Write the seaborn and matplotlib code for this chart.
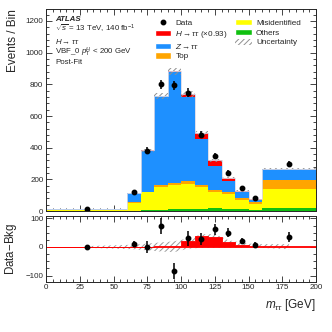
import numpy as np
import pandas as pd
import matplotlib
matplotlib.use("Agg")
import matplotlib.pyplot as plt
import seaborn as sns
from matplotlib.patches import Patch
from matplotlib.lines import Line2D
from matplotlib.ticker import MultipleLocator

# ---------------------------------------------------------------------------
# Data
# ---------------------------------------------------------------------------

edges = [0, 60, 70, 80, 90, 100, 110, 120, 130, 140, 150, 160, 200]
others = [1, 4, 8, 10, 12, 15, 16, 18, 16, 12, 8, 20]
misid = [8, 48, 111, 141, 156, 157, 135, 101, 93, 59, 38, 120]
top = [0.5, 3, 4, 17, 12, 15, 17, 15, 14, 12, 10, 57]
ztt = [3.8, 57, 259, 557, 698, 531, 286, 150, 68, 39, 17, 68]
htt = [0.2, 0.5, 1, 2, 4, 22, 38, 36, 17, 8, 4, 2]
data = [12, 122, 382, 799, 795, 748, 482, 346, 241, 143, 81, 299]
data_x = [30, 65, 75, 85, 95, 105, 115, 125, 135, 145, 155, 180]

# Data-Bkg uncertainty band (upper / lower edge per bin)
band_hi = [3, 8, 12, 16, 20, 30, 44, 46, 24, 15, 10, 10]
band_lo = [-3, -8, -12, -16, -18, -6, -3, -3, -2, -2, -2, -8]

names = ["H", "Z", "Top", "Misid", "Others"]
colors = {"H": "#ff0000", "Z": "#1e90ff", "Top": "#ffa500",
          "Misid": "#ffff00", "Others": "#10c010"}

# ---------------------------------------------------------------------------
# Style
# ---------------------------------------------------------------------------

sns.set_theme(style="ticks")
plt.rcParams["font.family"] = ["Liberation Sans", "DejaVu Sans"]
plt.rcParams["mathtext.fontset"] = "custom"
plt.rcParams["mathtext.it"] = "Liberation Sans:italic"
plt.rcParams["mathtext.rm"] = "Liberation Sans"
plt.rcParams["hatch.linewidth"] = 0.7

edges_a = np.array(edges)
centers = 0.5 * (edges_a[:-1] + edges_a[1:])
bkg = np.array(others) + np.array(misid) + np.array(top) + np.array(ztt)
total = bkg + np.array(htt)
data_a = np.array(data)
err = np.sqrt(data_a)
diff = data_a - bkg

rows = []
for name, vals in zip(names, [htt, ztt, top, misid, others]):
    for c, v in zip(centers, vals):
        rows.append({"x": c, "w": v, "proc": name})
df = pd.DataFrame(rows)

fig = plt.figure(figsize=(3.32, 3.32), dpi=100)
ax = fig.add_axes([0.139, 0.364, 0.813, 0.609])
rax = fig.add_axes([0.139, 0.152, 0.813, 0.197])

# ---------------------------------------------------------------------------
# Main panel
# ---------------------------------------------------------------------------

sns.histplot(data=df, x="x", weights="w", hue="proc", hue_order=names,
             palette=colors, bins=edges, multiple="stack", element="bars",
             linewidth=0, alpha=1, legend=False, ax=ax)

ax.stairs(total * 1.025, edges, baseline=total * 0.975, fill=True,
          facecolor="none", edgecolor="#909090", hatch="//////", linewidth=0)
ax.stairs(total, edges, color="#d8d8e8", linewidth=0.6)

ax.errorbar(data_x, data, yerr=err, fmt="o", color="black", ms=3.2,
            elinewidth=1.1, capsize=0)

ax.set_xlim(0, 200)
ax.set_ylim(0, 1275)
ax.set_xlabel("")
ax.set_ylabel("Events / Bin", fontsize=8.5, loc="top")
ax.tick_params(labelbottom=False)

t = dict(transform=ax.transAxes, fontsize=5.7, va="center", ha="left")
ax.text(0.033, 0.948, "ATLAS", fontweight="bold", style="italic", **t)
ax.text(0.033, 0.900, r"$\sqrt{s}$ = 13 TeV, 140 fb$^{-1}$", **t)
ax.text(0.033, 0.840, r"$H\rightarrow\tau\tau$", **t)
ax.text(0.033, 0.787, r"VBF_0 $p_{\mathrm{T}}^{H}$ < 200 GeV", **t)
ax.text(0.033, 0.737, "Post-Fit", **t)

handles = [
    Line2D([], [], marker="o", color="black", ms=3.2, ls="none"),
    Patch(facecolor=colors["H"]),
    Patch(facecolor=colors["Z"]),
    Patch(facecolor=colors["Top"]),
    Patch(facecolor=colors["Misid"]),
    Patch(facecolor=colors["Others"]),
    Patch(facecolor="white", edgecolor="#909090", hatch="//////", linewidth=0),
]
labels = ["Data", r"$H\rightarrow\tau\tau$ ($\times$0.93)", r"$Z\rightarrow\tau\tau$",
          "Top", "Misidentified", "Others", "Uncertainty"]
ax.legend(handles, labels, ncol=2, loc="upper left", bbox_to_anchor=(0.385, 0.975),
          frameon=False, fontsize=5.9, handlelength=2.0, handleheight=0.8,
          labelspacing=0.22, columnspacing=0.9, handletextpad=0.5,
          borderaxespad=0.2)

# ---------------------------------------------------------------------------
# Data - Bkg panel
# ---------------------------------------------------------------------------

rax.fill_between(centers, band_lo, band_hi, facecolor="none", edgecolor="#999999",
                 hatch="//////", linewidth=0)
sig_df = pd.DataFrame({"x": centers, "w": htt})
sns.histplot(data=sig_df, x="x", weights="w", bins=edges, element="step",
             color=colors["H"], alpha=1, linewidth=0.6, ax=rax)
rax.errorbar(data_x, diff, yerr=err, fmt="o", color="black", ms=3.2,
             elinewidth=1.1, capsize=0)

rax.set_xlim(0, 200)
rax.set_ylim(-121, 108)
rax.set_ylabel("Data$-$Bkg", fontsize=8.3)
rax.set_xlabel(r"$m_{\tau\tau}$ [GeV]", fontsize=8.5, loc="right")
rax.yaxis.set_label_coords(-0.1, 0.5)
ax.yaxis.set_label_coords(-0.1, 1.0)

for a in (ax, rax):
    a.tick_params(which="both", direction="in", top=True, right=True,
                  labelsize=5.8, width=0.6, pad=2)
    a.tick_params(which="major", length=4)
    a.tick_params(which="minor", length=2)
    a.xaxis.set_major_locator(MultipleLocator(25))
    a.xaxis.set_minor_locator(MultipleLocator(5))
    for s in a.spines.values():
        s.set_linewidth(0.7)
ax.yaxis.set_major_locator(MultipleLocator(200))
ax.yaxis.set_minor_locator(MultipleLocator(40))
rax.yaxis.set_major_locator(MultipleLocator(100))
rax.yaxis.set_minor_locator(MultipleLocator(25))

fig.savefig("out.png", dpi=100)
